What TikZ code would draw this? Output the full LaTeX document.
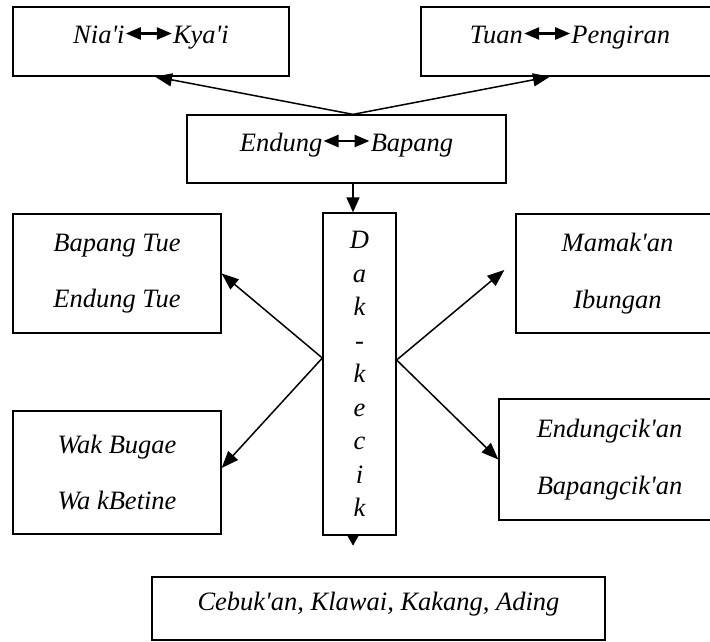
\documentclass[tikz,border=0pt]{standalone}
\usepackage{fontspec}
\setmainfont{Liberation Serif}[Ligatures=TeXOff]
\usetikzlibrary{arrows.meta}
\newcommand{\dblarrow}{\tikz[baseline=-10pt]\draw[line width=2.5pt,{Triangle[length=15pt,width=12pt]}-{Triangle[length=15pt,width=12pt]}] (0pt,0pt) -- (46pt,0pt);}

\tikzset{
	box/.style={draw, line width=1.3pt, align=center, inner sep=0pt,
		font=\fontsize{26.5}{56.7}\selectfont\itshape},
	onebox/.style={box, text height=18pt, text depth=14pt},
	link/.style={line width=1.5pt, -{Triangle[length=17pt,width=13pt]}}
}

\begin{document}
\begin{tikzpicture}[x=1pt, y=-1pt]
		%%%%% START %%%%%
		\useasboundingbox (0,0) rectangle (710,641);
		
		\node[onebox, minimum width=276, minimum height=69] (nia) at (151,41.5) {Nia'i\dblarrow Kya'i};
		\node[onebox, minimum width=298, minimum height=69] (tuan) at (570,41.5) {Tuan\dblarrow Pengiran};
		\node[onebox, minimum width=319, minimum height=68] (endung) at (346.5,149) {Endung\dblarrow Bapang};
		
		\node[box, minimum width=208, minimum height=119] (bapang) at (117,273.5) {Bapang Tue\\Endung Tue};
		\node[box, minimum width=208, minimum height=123] (wak) at (117,472.5) {Wak Bugae\\Wa kBetine};
		\node[box, minimum width=203, minimum height=119] (mamak) at (617.5,273.5) {Mamak'an\\Ibungan};
		\node[box, minimum width=221, minimum height=121] (endcik) at (609.5,459.5) {Endungcik'an\\Bapangcik'an};
		
		\node[box, font=\fontsize{26.5}{33.5}\selectfont\itshape, minimum width=73, minimum height=322] (dak) at (359.5,374)
			{D\\a\\k\\-\\k\\e\\c\\i\\k};
		
		\node[onebox, minimum width=453, minimum height=63] (cebuk) at (378.5,608.5) {Cebuk'an, Klawai, Kakang, Ading};
		
		\coordinate (fork) at ([xshift=6.5pt]endung.north);
		\draw[link] (fork) -- ([xshift=4pt]nia.south);
		\draw[link] (fork) -- ([xshift=-20pt]tuan.south);
		\draw[link, -{Triangle[length=15pt,width=13pt]}] ([xshift=6.5pt]endung.south) -- ([xshift=-6.5pt]dak.north);
		
		\coordinate (lt) at ([yshift=16pt]dak.west);
		\coordinate (rt) at ([yshift=14pt]dak.east);
		\draw[link] (lt) -- (bapang.east);
		\draw[link] (lt) -- ([yshift=4.5pt]wak.east);
		\draw[link] (rt) -- ([xshift=-11pt,yshift=3.5pt]mamak.west);
		\draw[link] (rt) -- (endcik.west);
		
		\coordinate (tail) at ([xshift=-6.5pt,yshift=-10pt]dak.south);
		\draw[line width=1.3pt, -{Triangle[length=10pt,width=11pt]}] ([xshift=-6.5pt]dak.south) -- (tail);
		
		%%%%% END %%%%%
\end{tikzpicture}
\end{document}
